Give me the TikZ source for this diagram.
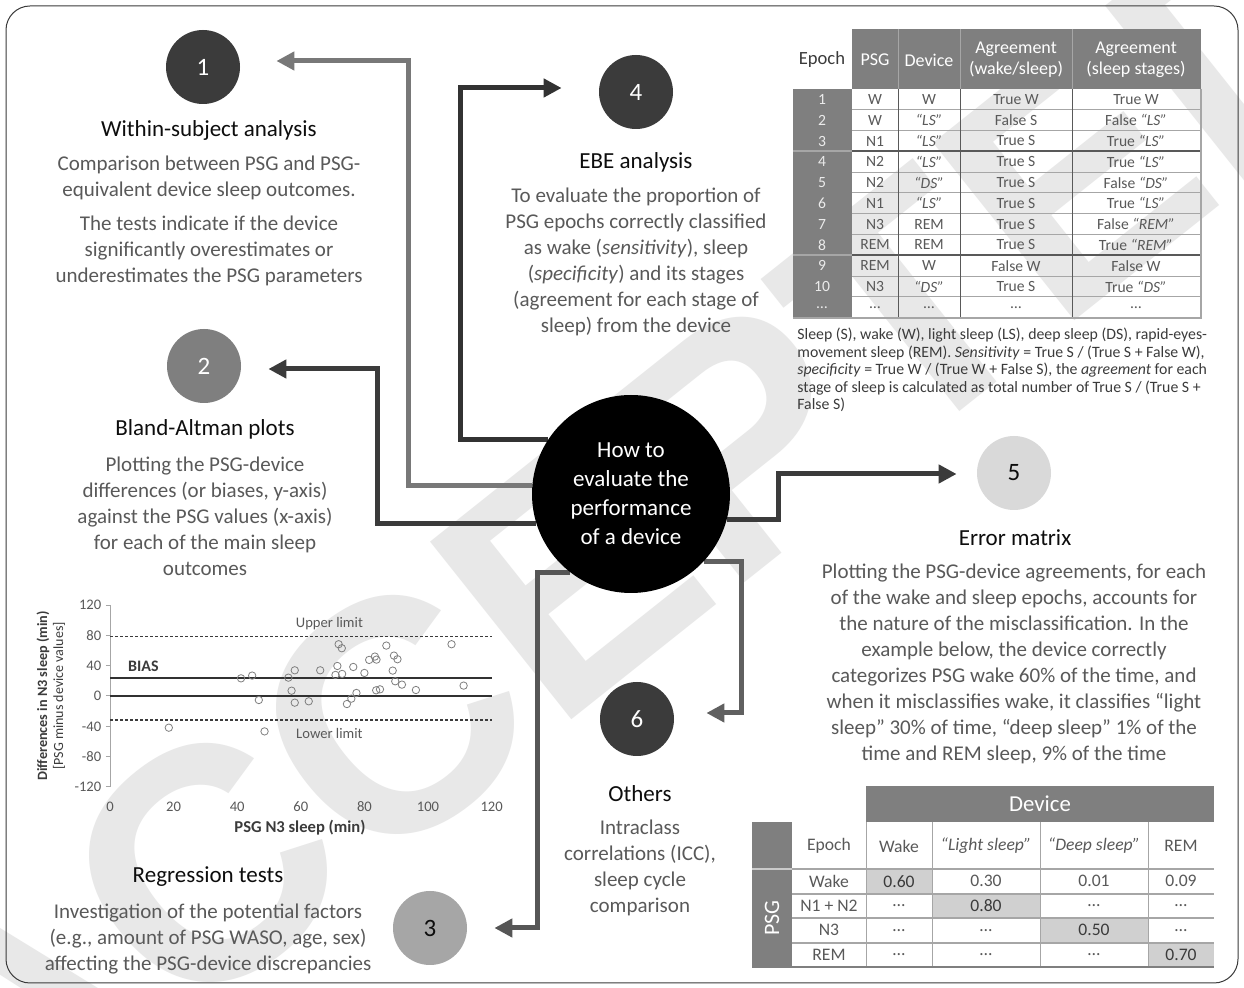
\documentclass[tikz,border=0pt]{standalone}
\usepackage{fontspec}
\setmainfont{Carlito}
\newfontfamily\stampfont{Liberation Sans}
\usetikzlibrary{arrows.meta}

\definecolor{ink}{HTML}{0D0D0D}
\definecolor{prose}{HTML}{595959}
\definecolor{dark}{HTML}{3B3B3B}
\definecolor{mid}{HTML}{606060}
\definecolor{hdr}{HTML}{7F7F7F}
\definecolor{rule}{HTML}{A6A6A6}
\definecolor{hilite}{HTML}{D0D0D0}
\definecolor{stamp}{HTML}{E8E8E8}

\pgfdeclarelayer{stampl}
\pgfdeclarelayer{links}
\pgfsetlayers{stampl,links,main}

\newcommand{\qt}[1]{\textit{“#1”}}
\newcommand{\hi}[1]{\textcolor{dark}{#1}}

\tikzset{
	num/.style={circle, minimum size=37pt, inner sep=0pt, font=\fontsize{12.5}{14}\selectfont},
	head/.style={font=\fontsize{11.5}{14}\selectfont, text=ink},
	blurb/.style={align=center, font=\fontsize{10.5}{13}\selectfont, text=prose},
	link/.style={line width=2.5pt, -{Triangle[length=9pt,width=9pt]}},
	cell/.style={font=\fontsize{7.8}{9}\selectfont, text=prose, inner sep=0pt},
	thead/.style={align=center, font=\fontsize{9}{10.5}\selectfont, text=white, inner sep=0pt},
	mcell/.style={font=\fontsize{8.8}{10}\selectfont, text=prose, inner sep=0pt},
	tick/.style={font=\fontsize{7.3}{8}\selectfont, text=prose, inner sep=1pt},
	dot/.style={circle, draw=hdr, line width=0.4pt, minimum size=3.7pt, inner sep=0pt},
}

\begin{document}
\begin{tikzpicture}[x=0.5pt, y=-0.5pt]
	\useasboundingbox (0,0) rectangle (1244,988);
	
	\begin{pgfonlayer}{stampl}
		\fill[white] (0,0) rectangle (1244,988);
		\begin{scope}
			\clip (0,0) rectangle (1244,988);
			\node[text=stamp, rotate=38.5, font=\stampfont\bfseries\fontsize{165}{165}\selectfont] (wm) at (635,525) {ACCEPTED};
		\end{scope}
	\end{pgfonlayer}
	
	\draw[dark, line width=0.5pt, rounded corners=12pt] (6,6) rectangle (1238,983);
	
	% hub and numbered discs
	\node[circle, fill=black, minimum size=99pt, inner sep=0pt, align=center, text=white, font=\fontsize{11.5}{14.5}\selectfont] (hub) at (631,494) {How to\\evaluate the\\performance\\of a device};
	
	\node[num, fill=dark, text=white] (c1) at (203,67) {1};
	\node[num, fill=hdr, text=white] (c2) at (204,366) {2};
	\node[num, fill=rule, text=ink] (c3) at (430,928) {3};
	\node[num, fill=dark, text=white] (c4) at (636,92) {4};
	\node[num, fill=hilite!80!white, text=ink] (c5) at (1014,473) {5};
	\node[num, fill=dark, text=white] (c6) at (637,719) {6};
	
	\coordinate (k1) at (408,61);
	\coordinate (k2) at (377,369);
	\coordinate (k3) at (537,928);
	\coordinate (k4) at (460,88);
	\coordinate (k5) at (778,474);
	\coordinate (k6) at (741,713);
	
	\begin{pgfonlayer}{links}
		\draw[link, mid!85!white, shorten >=18pt] (hub.175) -| (k1) -- (c1.east |- k1);
		\draw[link, dark, shorten >=13.5pt] (hub.197) -| (k2) -- (c2.east |- k2);
		\draw[link, mid!90!black, shorten >=13.5pt] (hub.232) -| (k3) -- (c3.east |- k3);
		\draw[link, dark!85!black, shorten >=18.5pt] (hub.147) -| (k4) -- (c4.west |- k4);
		\draw[link, dark, shorten >=10pt] (hub.-15) -| (k5) -- (c5.west |- k5);
		\draw[link, mid, shorten >=16pt] (hub.-43) -| (k6) -- (c6.east |- k6);
	\end{pgfonlayer}
	
	% headings and texts
	\node[head] (h1) at (209,130) {Within-subject analysis};
	\node[blurb] (t1) at (209,221) {Comparison between PSG and PSG-\\equivalent device sleep outcomes.\\[4pt]The tests indicate if the device\\significantly overestimates or\\underestimates the PSG parameters};
	
	\node[head] (h4) at (636,162) {EBE analysis};
	\node[blurb] (t4) at (636,262) {To evaluate the proportion of\\PSG epochs correctly classified\\as wake (\textit{sensitivity}), sleep\\(\textit{specificity}) and its stages\\(agreement for each stage of\\sleep) from the device};
	
	\node[head] (h2) at (205,429) {Bland-Altman plots};
	\node[blurb] (t2) at (205,516) {Plotting the PSG-device\\differences (or biases, y-axis)\\against the PSG values (x-axis)\\for each of the main sleep\\outcomes};
	
	\node[head] (h5) at (1015,538) {Error matrix};
	\node[blurb] (t5) at (1014,664) {Plotting the PSG-device agreements, for each\\of the wake and sleep epochs, accounts for\\the nature of the misclassification. In the\\example below, the device correctly\\categorizes PSG wake 60\% of the time, and\\when it misclassifies wake, it classifies “light\\sleep” 30\% of time, “deep sleep” 1\% of the\\time and REM sleep, 9\% of the time};
	
	\node[head] (h6) at (640,794) {Others};
	\node[blurb] (t6) at (640,868) {Intraclass\\correlations (ICC),\\sleep cycle\\comparison};
	
	\node[head] (h3) at (208,877) {Regression tests};
	\node[blurb] (t3) at (208,939) {Investigation of the potential factors\\(e.g., amount of PSG WASO, age, sex)\\affecting the PSG-device discrepancies};
	
	% epoch table
	\def\rh{20.8}
	\fill[hdr] (852,29) rectangle (1201,89);
	\fill[hdr] (793,89) rectangle (852,318);
	\foreach \i in {1,...,10}
		\draw[rule, line width=0.5pt] (852,{89+\i*\rh}) -- (1201,{89+\i*\rh});
	\foreach \i in {3,8} {
		\draw[prose, line width=0.9pt] (852,{89+\i*\rh}) -- (1201,{89+\i*\rh});
		\draw[rule, line width=0.9pt] (793,{89+\i*\rh}) -- (852,{89+\i*\rh});
	}
	\foreach \x in {898,960,1072} {
		\draw[rule, line width=0.5pt] (\x,29) -- (\x,89);
		\draw[prose, line width=0.5pt] (\x,89) -- (\x,318);
	}
	\draw[rule, line width=0.6pt] (1201,89) -- (1201,318) -- (793,318);
	
	\node[font=\fontsize{9.3}{10.5}\selectfont, text=dark] (ep) at (822,60) {Epoch};
	\node[thead] (ps) at (875,60) {PSG};
	\node[thead] (dv) at (929,60) {Device};
	\node[thead] (aw) at (1016,60) {Agreement\\(wake/sleep)};
	\node[thead] (as) at (1136,60) {Agreement\\(sleep stages)};
	
	\foreach \n/\p/\d/\a/\b [count=\i] in {
		1/W/W/True W/True W,
		2/W/\qt{LS}/False S/False \qt{LS},
		3/N1/\qt{LS}/True S/True \qt{LS},
		4/N2/\qt{LS}/True S/True \qt{LS},
		5/N2/\qt{DS}/True S/False \qt{DS},
		6/N1/\qt{LS}/True S/True \qt{LS},
		7/N3/REM/True S/False \qt{REM},
		8/REM/REM/True S/True \qt{REM},
		9/REM/W/False W/False W,
		10/N3/\qt{DS}/True S/True \qt{DS},
		…/…/…/…/…} {
		\node[cell, text=white!92!black] (en\i) at (822,{89+(\i-0.5)*\rh}) {\n};
		\node[cell] (pn\i) at (875,{89+(\i-0.5)*\rh}) {\p};
		\node[cell] (dn\i) at (929,{89+(\i-0.5)*\rh}) {\d};
		\node[cell] (wn\i) at (1016,{89+(\i-0.5)*\rh}) {\a};
		\node[cell] (sn\i) at (1136,{89+(\i-0.5)*\rh}) {\b};
	}
	
	\node[anchor=west, align=left, inner sep=0pt, text=dark, font=\fontsize{7.9}{8.75}\selectfont] (note) at (797,370) {Sleep (S), wake (W), light sleep (LS), deep sleep (DS), rapid-eyes-\\movement sleep (REM). \textit{Sensitivity} = True S / (True S + False W),\\\textit{specificity} = True W / (True W + False S), the \textit{agreement} for each\\stage of sleep is calculated as total number of True S / (True S +\\False S)};
	
	% error matrix
	\fill[hdr] (866,786) rectangle (1214,822);
	\fill[hdr] (752,822) rectangle (792,967);
	\fill[hilite] (866,869) rectangle (932,894);
	\fill[hilite] (932,894) rectangle (1040,918);
	\fill[hilite] (1040,918) rectangle (1148,943);
	\fill[hilite] (1148,943) rectangle (1214,967);
	\foreach \y in {869,894,918,943}
		\draw[rule, line width=0.6pt] (792,\y) -- (1214,\y);
	\draw[rule!60!white, line width=0.6pt] (752,869) -- (792,869);
	\foreach \x in {866,932,1040,1148}
		\draw[rule, line width=0.5pt] (\x,822) -- (\x,967);
	\draw[hdr, line width=0.6pt] (752,967) -- (1214,967);
	
	\node[text=white, font=\fontsize{11.4}{12}\selectfont] (dvh) at (1040,804) {Device};
	\node[rotate=90, text=white, font=\fontsize{11}{12}\selectfont] (psgv) at (772,918) {PSG};
	\node[mcell] (me) at (829,846) {Epoch};
	\node[mcell] (mw) at (899,846) {Wake};
	\node[mcell] (ml) at (986,846) {\qt{Light sleep}};
	\node[mcell] (md) at (1094,846) {\qt{Deep sleep}};
	\node[mcell] (mr) at (1181,846) {REM};
	\foreach \r/\w/\l/\d/\m [count=\i] in {
		Wake/\hi{0.60}/0.30/0.01/0.09,
		N1 + N2/…/\hi{0.80}/…/…,
		N3/…/…/\hi{0.50}/…,
		REM/…/…/…/\hi{0.70}} {
		\node[mcell] (mr\i) at (829,{869+(\i-0.5)*24.5}) {\r};
		\node[mcell] (mw\i) at (899,{869+(\i-0.5)*24.5}) {\w};
		\node[mcell] (ml\i) at (986,{869+(\i-0.5)*24.5}) {\l};
		\node[mcell] (md\i) at (1094,{869+(\i-0.5)*24.5}) {\d};
		\node[mcell] (mm\i) at (1181,{869+(\i-0.5)*24.5}) {\m};
	}
	
	% Bland-Altman plot
	\begin{scope}[shift={(110,696)}, x=1.59pt, y=0.379pt]
		\draw[rule, line width=0.5pt] (0,-120) -- (0,120);
		\foreach \v [count=\i] in {-120,-80,...,120} {
			\draw[rule, line width=0.5pt] (-1.3,\v) -- (0,\v);
			\node[tick, anchor=east] (yt\i) at (-2,\v) {\v};
		}
		\foreach \v [count=\i] in {0,20,...,120}
			\node[tick] (xt\i) at (\v,-146) {\v};
		\draw[dark, line width=0.6pt, dash pattern=on 1.5pt off 1pt] (0,79) -- (120,79);
		\draw[dark, line width=0.6pt, dash pattern=on 1.5pt off 1pt] (0,-31.7) -- (120,-31.7);
		\draw[ink!85!white, line width=1.1pt] (0,24.2) -- (120,24.2);
		\draw[ink!85!white, line width=0.8pt] (0,0) -- (120,0);
		\node[tick] (upl) at (69,95) {Upper limit};
		\node[tick] (lol) at (69,-49) {Lower limit};
		\node[tick, text=dark, font=\bfseries\fontsize{8}{9}\selectfont] (bias) at (10.5,39.6) {BIAS};
		\foreach \a/\b [count=\i] in {18.5/-41.8, 41.2/23.3, 44.7/26.9, 46.8/-5.3, 48.6/-46.7, 56.1/24.2, 57.1/7.0, 58.1/33.9, 58.1/-8.8, 62.5/-7.0, 66.1/33.9, 70.9/27.8, 71.5/39.6, 71.9/68.3, 72.9/63.0, 73.0/29.1, 74.5/-10.6, 75.9/-3.5, 76.5/38.3, 77.5/4.0, 80.0/30.4, 81.5/47.6, 83.3/52.0, 83.8/48.0, 83.7/7.5, 84.9/8.8, 86.9/66.5, 88.9/33.5, 89.3/53.3, 90.4/48.5, 89.7/19.4, 91.8/15.0, 96.2/7.9, 107.4/68.3, 111.2/13.7}
			\node[dot] (pt\i) at (\a,\b) {};
	\end{scope}
	\node[rotate=90, text=dark, font=\bfseries\fontsize{7.1}{8}\selectfont] (ytl) at (43,696) {Differences in N3 sleep (min)};
	\node[rotate=90, text=dark, font=\fontsize{7}{8}\selectfont] (yts) at (59,696) {[PSG minus device values]};
	\node[text=dark, font=\bfseries\fontsize{8.3}{9}\selectfont] (xtl) at (300,828) {PSG N3 sleep (min)};
	
\end{tikzpicture}
\end{document}
